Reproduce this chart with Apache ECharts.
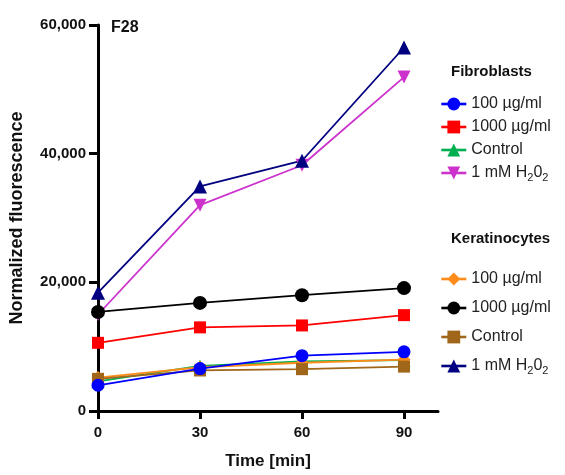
<!DOCTYPE html>
<html>
<head>
<meta charset="utf-8">
<script src="https://cdn.jsdelivr.net/npm/echarts@6/dist/echarts.min.js"></script>
<style>
  html, body { margin: 0; padding: 0; background: #fff; }
  #chart { width: 565px; height: 475px; }
</style>
</head>
<body>
<div id="chart"></div>
<script>
// 时间点 (min)
const times = [0, 30, 60, 90]
const yTicks = [0, 20000, 40000, 60000]

// 图例文字
const fibLabels = ['100 µg/ml', '1000 µg/ml', 'Control', '1 mM H2O2']
const kerLabels = ['100 µg/ml', '1000 µg/ml', 'Control', '1 mM H2O2']

// Fibroblasts
const fib100 = [4000, 6600, 8600, 9200]
const fib1000 = [10600, 13000, 13300, 14900]
const fibControl = [4600, 7000, 7700, 7900]
const fibH2O2 = [15000, 32000, 38200, 51900]

// Keratinocytes
const ker100 = [5200, 6800, 7500, 8000]
const ker1000 = [15400, 16800, 18000, 19100]
const kerControl = [5000, 6300, 6500, 6900]
const kerH2O2 = [18400, 34900, 38900, 56500]

const font = 'Arial, "Liberation Sans", sans-serif'

function pairs(vals) {
  return times.map((t, i) => [t, vals[i]])
}

// 系列定义: [数据, 颜色, 符号, 符号大小]
const fibDefs = [
  [fib100, '#0000ff', 'circle', 13],
  [fib1000, '#ff0000', 'rect', 12],
  [fibControl, '#00b050', 'triangle', 13],
  [fibH2O2, '#cc33cc', 'path://M0,0 L10,0 L5,9 Z', 13]
]
const kerDefs = [
  [ker100, '#ff8c1a', 'diamond', 13],
  [ker1000, '#000000', 'circle', 14],
  [kerControl, '#a0661a', 'rect', 12],
  [kerH2O2, '#000080', 'triangle', 14]
]

function makeSeries(defs, labels, prefix) {
  return defs.map((d, i) => ({
    name: prefix + labels[i],
    type: 'line',
    data: pairs(d[0]),
    symbol: d[2],
    symbolSize: d[3],
    itemStyle: { color: d[1] },
    lineStyle: { color: d[1], width: 1.8 },
    z: prefix === 'F:' && i === 0 ? 5 : 2
  }))
}

const series = [
  ...makeSeries(fibDefs, fibLabels, 'F:'),
  ...makeSeries(kerDefs, kerLabels, 'K:')
]

// 图例文字(去掉前缀, H2O2 下标)
function legendText(name) {
  const s = name.slice(2)
  return s.replace('H2O2', 'H{s|2}0{s|2}')
}

const legendBase = {
  orient: 'vertical',
  left: 435,
  itemWidth: 25,
  itemHeight: 16,
  itemTextGap: 12,
  selectedMode: false,
  formatter: legendText,
  lineStyle: { width: 2.6 },
  textStyle: {
    fontFamily: font,
    fontSize: 16,
    color: '#222',
    rich: {
      s: { fontSize: 11, fontFamily: font, color: '#222', padding: [9, 0, 0, 0] }
    }
  }
}

const chart = echarts.init(document.getElementById('chart'))
chart.setOption({
  animation: false,
  backgroundColor: '#fff',
  title: [
    { text: 'F28', left: 106, top: 15, textStyle: { fontFamily: font, fontSize: 16, fontWeight: 'bold', color: '#111' } },
    { text: 'Fibroblasts', left: 446, top: 59, textStyle: { fontFamily: font, fontSize: 15, fontWeight: 'bold', color: '#111' } },
    { text: 'Keratinocytes', left: 446, top: 226, textStyle: { fontFamily: font, fontSize: 15, fontWeight: 'bold', color: '#111' } }
  ],
  grid: { left: 97, right: 127, top: 25, bottom: 58 },
  legend: [
    Object.assign({}, legendBase, { top: 91, itemGap: 7, data: series.slice(0, 4).map(s => s.name) }),
    Object.assign({}, legendBase, { top: 266, itemGap: 13, data: series.slice(4).map(s => s.name) })
  ],
  xAxis: {
    type: 'value',
    min: 0,
    max: 100,
    name: 'Time [min]',
    nameLocation: 'middle',
    nameGap: 42,
    nameTextStyle: { fontFamily: font, fontSize: 17, fontWeight: 'bold', color: '#111' },
    splitLine: { show: false },
    axisLine: { lineStyle: { color: '#000', width: 3 } },
    axisTick: { length: 8, lineStyle: { color: '#000', width: 3 }, customValues: times },
    axisLabel: { customValues: times, margin: 14, fontFamily: font, fontSize: 15, fontWeight: 'bold', color: '#111' }
  },
  yAxis: {
    type: 'value',
    min: 0,
    max: 60000,
    interval: 20000,
    name: 'Normalized fluorescence',
    nameLocation: 'middle',
    nameGap: 72,
    nameTextStyle: { fontFamily: font, fontSize: 18, fontWeight: 'bold', color: '#111' },
    splitLine: { show: false },
    axisLine: { show: true, lineStyle: { color: '#000', width: 3 } },
    axisTick: { show: true, length: 9, lineStyle: { color: '#000', width: 3 } },
    axisLabel: {
      margin: 12,
      fontFamily: font,
      fontSize: 15,
      fontWeight: 'bold',
      color: '#111',
      formatter: v => yTicks.includes(v) ? v.toLocaleString('en-US') : ''
    }
  },
  series: series
})
</script>
</body>
</html>
